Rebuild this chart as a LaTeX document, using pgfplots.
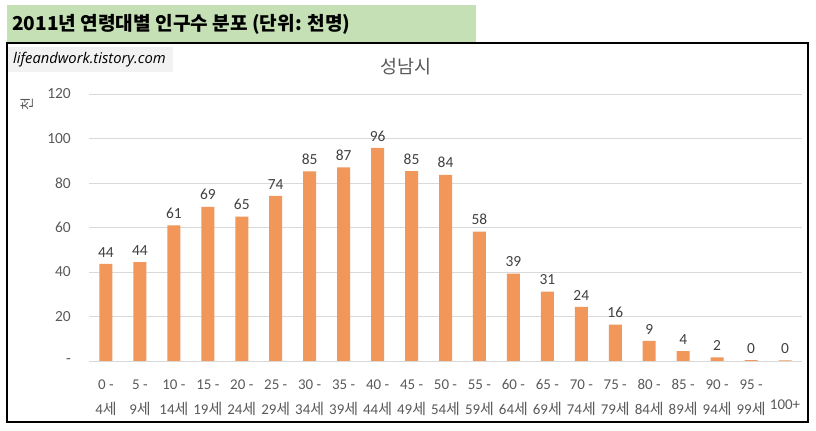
\documentclass[border=0pt]{standalone}
\usepackage{fontspec}
\setmainfont{Carlito}
\newfontfamily\kr{Noto Sans CJK KR}
\newfontfamily\wm{Open Sans}
\usepackage{pgfplots}
\pgfplotsset{compat=1.18}
\definecolor{barc}{HTML}{F1975A}
\definecolor{bann}{HTML}{C5E0B4}
\definecolor{gridc}{HTML}{D9D9D9}
\definecolor{tickc}{HTML}{595959}
\definecolor{labc}{HTML}{404040}
\definecolor{wmbg}{HTML}{F2F2F2}
\begin{document}
\begin{tikzpicture}
\fill[bann] (7bp,388bp) rectangle (476bp,426bp);
\node[anchor=west, inner sep=0pt, font=\kr\bfseries\fontsize{19.2}{21}\selectfont] at (12bp,407bp) {2011년 연령대별 인구수 분포 (단위: 천명)};
\draw[black, line width=1.3bp] (7bp,9bp) rectangle (808bp,388bp);
\fill[wmbg] (8bp,359bp) rectangle (173bp,384bp);
\node[anchor=west, inner sep=0pt, font=\wm\itshape\fontsize{14.8}{16}\selectfont] at (13bp,371.5bp) {lifeandwork.tistory.com};
\node[font=\kr\fontsize{18.5}{20}\selectfont, text=tickc] at (406bp,364bp) {성남시};
\node[font=\kr\fontsize{14}{15}\selectfont, text=tickc, rotate=90] at (27bp,327bp) {천};
\begin{axis}[
  at={(89bp,70bp)}, anchor=south west,
  scale only axis, width=713bp, height=267bp,
  xmin=-0.5, xmax=20.5, ymin=0, ymax=120,
  ytick={0,20,...,120},
  yticklabels={-,20,40,60,80,100,120},
  xtick={0,1,...,20},
  xticklabels={{\strut 0 -\\4{\kr 세}},{\strut 5 -\\9{\kr 세}},{\strut 10 -\\14{\kr 세}},{\strut 15 -\\19{\kr 세}},{\strut 20 -\\24{\kr 세}},{\strut 25 -\\29{\kr 세}},{\strut 30 -\\34{\kr 세}},{\strut 35 -\\39{\kr 세}},{\strut 40 -\\44{\kr 세}},{\strut 45 -\\49{\kr 세}},{\strut 50 -\\54{\kr 세}},{\strut 55 -\\59{\kr 세}},{\strut 60 -\\64{\kr 세}},{\strut 65 -\\69{\kr 세}},{\strut 70 -\\74{\kr 세}},{\strut 75 -\\79{\kr 세}},{\strut 80 -\\84{\kr 세}},{\strut 85 -\\89{\kr 세}},{\strut 90 -\\94{\kr 세}},{\strut 95 -\\99{\kr 세}},{\strut\\[-5bp]100+}},
  xticklabel style={align=center, inner sep=0pt, yshift=-7bp, font=\fontsize{15}{25}\selectfont, text=tickc},
  yticklabel style={inner sep=0pt, xshift=-18bp, font=\fontsize{15.5}{17}\selectfont, text=tickc},
  axis lines*=left,
  axis line style={draw=none},
  tick style={draw=none},
  ymajorgrids,
  major grid style={gridc, line width=0.9bp},
  ybar, bar width=13bp,
  /pgf/number format/assume math mode=true,
  nodes near coords,
  nodes near coords style={/pgf/number format/fixed, /pgf/number format/precision=0},
  every node near coord/.append style={inner sep=0pt, yshift=6.5bp, font=\fontsize{15.5}{17}\selectfont, text=labc},
]
\addplot[fill=barc, draw=none] coordinates {
(0,43.7) (1,44.4) (2,60.9) (3,69.3) (4,64.9) (5,74.2) (6,85.2) (7,87.0) (8,95.8) (9,85.3) (10,83.7) (11,58.2) (12,39.3) (13,31.2) (14,24.3) (15,16.4) (16,9.1) (17,4.4) (18,1.6) (19,0.4) (20,0.3)
};
\end{axis}
\pgfresetboundingbox
\useasboundingbox (0,0) rectangle (816bp,431bp);
\end{tikzpicture}
\end{document}
